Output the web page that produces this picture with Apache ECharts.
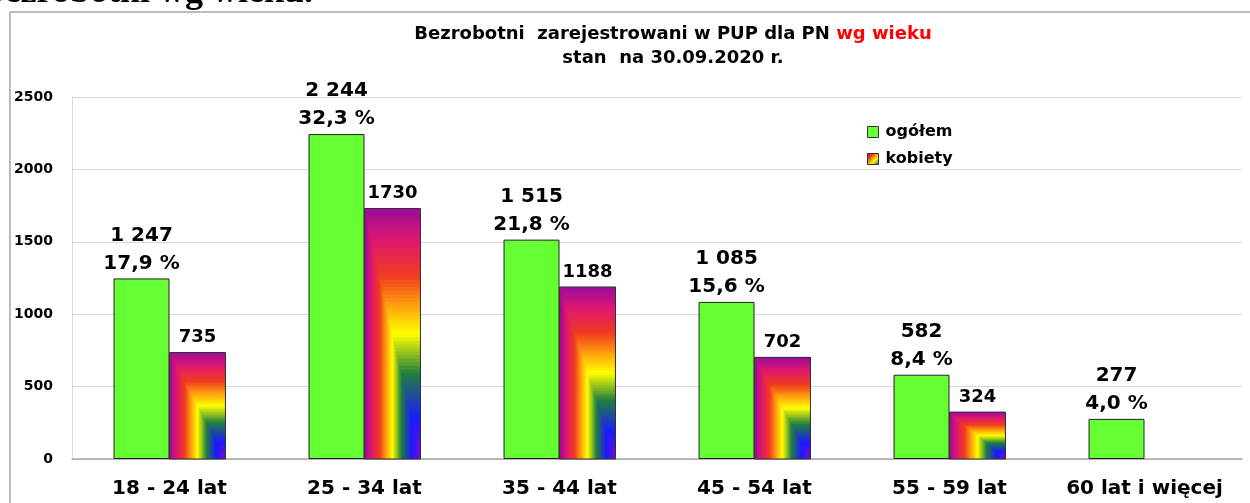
<!DOCTYPE html>
<html>
<head>
<meta charset="utf-8">
<script src="https://cdn.jsdelivr.net/npm/echarts@6/dist/echarts.min.js"></script>
<style>
  html, body { margin: 0; padding: 0; background: #fff; }
  #bar { width: 1250px; height: 503px; }
</style>
</head>
<body>
<div id="bar"></div>
<script>
// dane z wykresu
const kategorie = ["18 - 24 lat", "25 - 34 lat", "35 - 44 lat", "45 - 54 lat", "55 - 59 lat", "60 lat i więcej"];
const ogolem = [1247, 2244, 1515, 1085, 582, 277];
const udzial = ["17,9", "32,3", "21,8", "15,6", "8,4", "4,0"];
const kobiety = [735, 1730, 1188, 702, 324, "-"];
const osY = [0, 500, 1000, 1500, 2000, 2500];

const FONT = "DejaVu Sans";
const BAR_RATIO = 0.287;
// kolory gradientu "od rogu" dla kobiet
const teczaStops = [
  [0, "#7b0fd0"], [0.16, "#1a1aff"], [0.34, "#1f7f3f"], [0.5, "#ffff00"],
  [0.62, "#ff9a10"], [0.73, "#f03c1e"], [0.87, "#e0186e"], [1, "#9c0a9c"]
];
function teczaColor(t) {
  for (let i = 1; i < teczaStops.length; i++) {
    if (t <= teczaStops[i][0]) {
      const a = teczaStops[i - 1], b = teczaStops[i];
      return echarts.color.lerp((t - a[0]) / (b[0] - a[0]), [a[1], b[1]]);
    }
  }
  return teczaStops[teczaStops.length - 1][1];
}
function tysiace(v) {
  return String(v).replace(/\B(?=(\d{3})+(?!\d))/g, " ");
}

let myChart = echarts.init(document.getElementById("bar"));
myChart.setOption({
  animation: false,
  textStyle: { fontFamily: FONT },
  graphic: [
    {
      type: "rect",
      z: -10,
      shape: { x: 10, y: 12, width: 1300, height: 600 },
      style: { fill: "none", stroke: "#a6a6a6", lineWidth: 1.5 }
    },
    {
      type: "text",
      z: -10,
      x: 313, y: 11,
      style: {
        text: "Bezrobotni wg wieku.",
        font: "bold 36px 'Liberation Serif'",
        fill: "#000",
        align: "right",
        verticalAlign: "bottom"
      }
    }
  ],
  title: {
    left: 668,
    top: 17,
    textAlign: "center",
    text: "{a|Bezrobotni  zarejestrowani w PUP dla PN }{r|wg wieku}\n{a|stan  na 30.09.2020 r.}",
    textStyle: {
      rich: {
        a: { fontFamily: FONT, fontSize: 18, fontWeight: "bold", color: "#000", lineHeight: 24 },
        r: { fontFamily: FONT, fontSize: 18, fontWeight: "bold", color: "#ff0000", lineHeight: 24 }
      }
    }
  },
  legend: {
    data: ["ogółem", "kobiety"],
    orient: "vertical",
    left: 867,
    top: 124,
    padding: 0,
    itemWidth: 11,
    itemHeight: 11,
    itemGap: 11,
    icon: "rect",
    itemStyle: { borderColor: "#333", borderWidth: 1 },
    textStyle: { fontFamily: FONT, fontSize: 16, fontWeight: "bold", color: "#000", padding: [0, 0, 0, 2] }
  },
  grid: {
    left: 72,
    right: 8,
    top: 97,
    bottom: 44,
    containLabel: false
  },
  xAxis: [
    {
      type: "category",
      data: kategorie,
      axisLine: { lineStyle: { color: "#a6a6a6", width: 1.5 } },
      axisTick: { show: false },
      axisLabel: { interval: 0, hideOverlap: false, color: "#000", fontSize: 20, fontWeight: "bold", margin: 20, fontFamily: FONT }
    }
  ],
  yAxis: [
    {
      type: "value",
      min: osY[0],
      max: osY[osY.length - 1],
      interval: osY[1] - osY[0],
      axisLine: { show: true, lineStyle: { color: "#d9d9d9" } },
      axisTick: { show: false },
      axisLabel: {
        color: "#000", fontSize: 14, fontWeight: "bold", margin: 19, fontFamily: FONT,
        formatter: function (v) { return String(v); }
      },
      splitLine: { show: true, lineStyle: { color: "#d9d9d9", width: 1.2 } }
    }
  ],
  series: [
    {
      name: "ogółem",
      type: "bar",
      barWidth: BAR_RATIO * 100 + "%",
      barGap: "0%",
      data: ogolem,
      itemStyle: { color: "#66ff33", borderColor: "#222", borderWidth: 1 },
      label: {
        show: true,
        position: "top",
        distance: 1,
        color: "#000",
        fontFamily: FONT,
        fontSize: 20,
        fontWeight: "bold",
        lineHeight: 28,
        formatter: function (p) {
          return tysiace(p.value) + "\n" + udzial[p.dataIndex] + " %";
        }
      }
    },
    {
      name: "kobiety",
      type: "bar",
      barWidth: BAR_RATIO * 100 + "%",
      data: kobiety,
      itemStyle: {
        color: new echarts.graphic.LinearGradient(1, 1, 0, 0, [
          { offset: 0, color: "#1a1aff" },
          { offset: 0.35, color: "#ffff00" },
          { offset: 0.7, color: "#f03c1e" },
          { offset: 1, color: "#9c0a9c" }
        ]),
        borderColor: "#333",
        borderWidth: 1
      },
      label: {
        show: true,
        position: "top",
        distance: 6,
        color: "#000",
        fontFamily: FONT,
        fontSize: 18,
        fontWeight: "bold"
      }
    },
    {
      // gradient prostokątny (od prawego dolnego rogu) na słupkach kobiet
      name: "kobiety-tecza",
      type: "custom",
      silent: true,
      z: 3,
      data: kobiety.map(function (v, i) { return [i, v]; }),
      encode: { x: 0, y: 1 },
      renderItem: function (params, api) {
        const v = api.value(1);
        if (isNaN(v)) return;
        const top = api.coord([api.value(0), v]);
        const base = api.coord([api.value(0), 0]);
        const w = api.size([1, 0])[0] * BAR_RATIO;
        const x1 = top[0] + w;
        const y1 = base[1];
        const h = y1 - top[1];
        const N = 70;
        const children = [];
        for (let k = N; k >= 1; k--) {
          const t = k / N;
          children.push({
            type: "rect",
            shape: { x: x1 - t * w, y: y1 - t * h, width: t * w, height: t * h },
            style: { fill: teczaColor(t - 0.5 / N) }
          });
        }
        children.push({
          type: "rect",
          shape: { x: top[0], y: top[1], width: w, height: h },
          style: { fill: "none", stroke: "#333", lineWidth: 1 }
        });
        return { type: "group", children: children };
      }
    }
  ]
});
</script>
</body>
</html>
